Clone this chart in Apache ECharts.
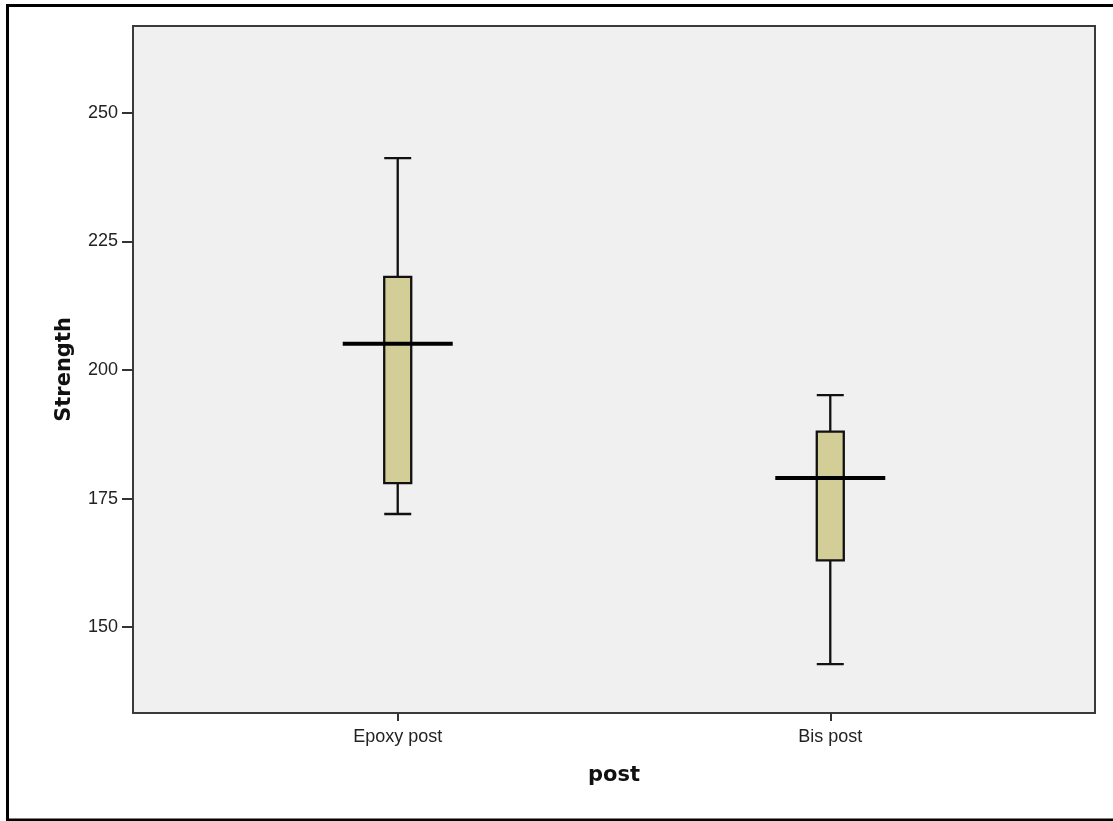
<!DOCTYPE html>
<html>
<head>
<meta charset="utf-8">
<script src="https://cdn.jsdelivr.net/npm/echarts@6/dist/echarts.min.js"></script>
<style>
html,body{margin:0;padding:0;background:#fff;}
#chart{width:1113px;height:821px;}
</style>
</head>
<body>
<div id="chart"></div>
<script>
// Data
const categories = ['Epoxy post', 'Bis post'];
// [lower whisker, Q1, median, Q3, upper whisker]
const epoxyBox = [172.0, 178.0, 205.1, 218.1, 241.2];
const bisBox = [142.8, 163.0, 179.0, 188.0, 195.1];
const yTicks = [150, 175, 200, 225, 250];

const boxes = [epoxyBox, bisBox];
const boxData = boxes.map((b, i) => [i + 1].concat(b));
const medianData = boxes.map((b, i) => [i + 1, b[2]]);
const xPositions = categories.map((c, i) => i + 1);

const chart = echarts.init(document.getElementById('chart'), null, {renderer: 'canvas'});
const option = {
  backgroundColor: '#ffffff',
  animation: false,
  graphic: [{
    type: 'rect',
    shape: {x: 7.5, y: 5.5, width: 1200, height: 814.5},
    style: {fill: 'none', stroke: '#000', lineWidth: 3},
    silent: true
  }],
  grid: {
    left: 133, top: 26, right: 18, bottom: 108,
    show: true,
    backgroundColor: '#f0f0f0',
    borderColor: '#3a3a3a',
    borderWidth: 2
  },
  xAxis: {
    type: 'value',
    min: 0.388,
    max: 2.612,
    name: 'post',
    nameLocation: 'middle',
    nameGap: 52,
    nameTextStyle: {fontFamily: 'DejaVu Sans', fontWeight: 'bold', fontSize: 21, color: '#111'},
    splitLine: {show: false},
    axisLine: {show: true, lineStyle: {color: '#3a3a3a', width: 2}},
    axisTick: {show: true, length: 8, customValues: xPositions, lineStyle: {color: '#333', width: 2}},
    axisLabel: {
      customValues: xPositions,
      margin: 15,
      fontFamily: 'Liberation Sans',
      fontSize: 18,
      color: '#222',
      formatter: v => categories[Math.round(v) - 1] || ''
    }
  },
  yAxis: {
    type: 'value',
    min: 133.3,
    max: 266.9,
    name: 'Strength',
    nameLocation: 'middle',
    nameGap: 58,
    nameRotate: 90,
    nameTextStyle: {fontFamily: 'DejaVu Sans', fontWeight: 'bold', fontSize: 21, color: '#111'},
    splitLine: {show: false},
    axisLine: {show: true, lineStyle: {color: '#3a3a3a', width: 2}},
    axisTick: {show: true, length: 11, customValues: yTicks, lineStyle: {color: '#333', width: 2}},
    axisLabel: {
      customValues: yTicks,
      margin: 15,
      fontFamily: 'Liberation Sans',
      fontSize: 18,
      color: '#222'
    }
  },
  series: [{
    type: 'boxplot',
    data: boxData,
    encode: {x: 0, y: [1, 2, 3, 4, 5]},
    boxWidth: [27, 27],
    itemStyle: {color: '#d3ce97', borderColor: '#111', borderWidth: 2.3},
    silent: true,
    z: 2
  }, {
    type: 'scatter',
    data: medianData,
    symbol: 'rect',
    symbolSize: [110, 4],
    itemStyle: {color: '#000', opacity: 1},
    silent: true,
    z: 3
  }]
};
chart.setOption(option);
</script>
</body>
</html>
